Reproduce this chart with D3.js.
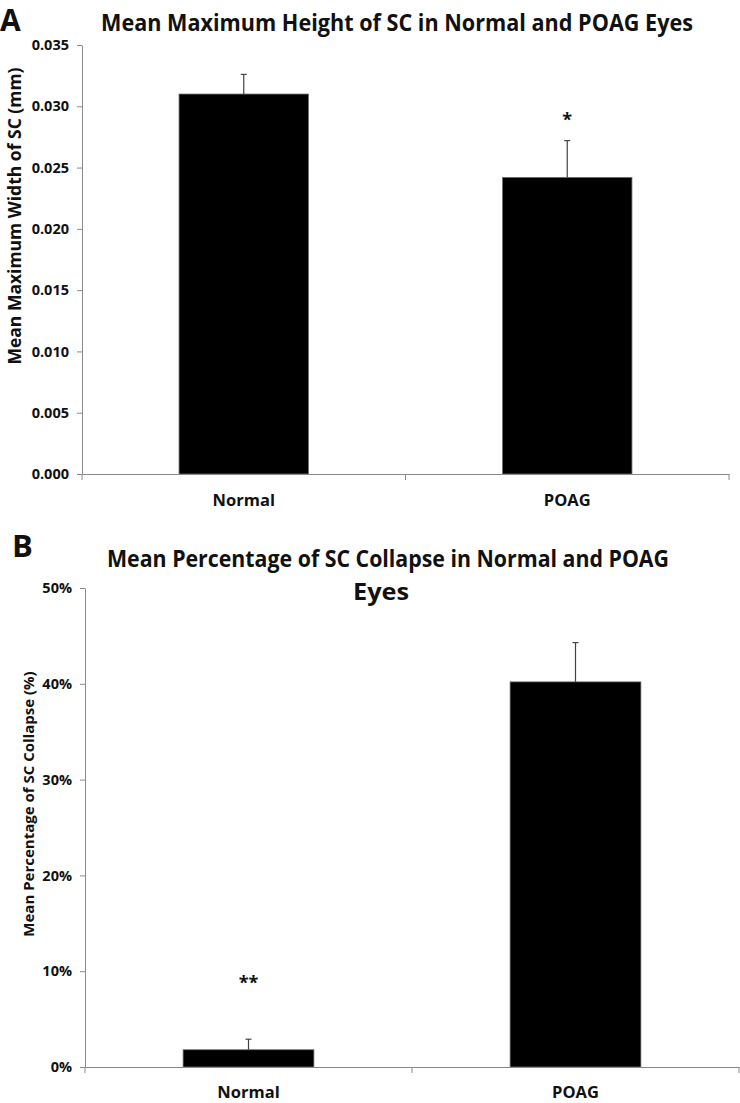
<!DOCTYPE html>
<html>
<head>
<meta charset="utf-8">
<script src="https://cdn.jsdelivr.net/npm/d3@7"></script>
<style>
  html, body { margin: 0; padding: 0; background: #fff; }
  svg { display: block; }
  text { font-family: "Open Sans", "DejaVu Sans", sans-serif; font-weight: bold; fill: #111; }
</style>
</head>
<body>
<script>
// ---------- data ----------
const categories = ["Normal", "POAG"];

// Panel A: mean maximum width of SC (mm)
const heightMeans = [0.0310, 0.0242];
const heightErrors = [0.0016, 0.0030];
const heightTicks = [0, 0.005, 0.010, 0.015, 0.020, 0.025, 0.030, 0.035];
const heightSig = ["", "*"];
const heightSigLevel = [null, 0.0292];

// Panel B: mean percentage of SC collapse
const collapseMeans = [0.018, 0.402];
const collapseErrors = [0.011, 0.041];
const collapseTicks = [0, 0.1, 0.2, 0.3, 0.4, 0.5];
const collapseSig = ["**", ""];
const collapseSigLevel = [0.0919, null];

const W = 740, H = 1103;
const svg = d3.select("body").append("svg").attr("width", W).attr("height", H);

const axisColor = "#8a8a8a";

function panel(cfg) {
  const g = svg.append("g");
  const y = d3.scaleLinear().domain(cfg.domain).range([cfg.y0, cfg.y1]);
  const x = d3.scaleBand().domain(categories).range([cfg.x0, cfg.x1])
    .paddingInner(0.6).paddingOuter(0.3);

  // y axis
  const ya = g.append("g").attr("transform", `translate(${cfg.x0},0)`)
    .call(d3.axisLeft(y).tickValues(cfg.ticks).tickFormat(cfg.fmt).tickSize(5).tickSizeOuter(0).tickPadding(8));
  ya.select(".domain").attr("stroke", axisColor);
  ya.selectAll(".tick line").attr("stroke", axisColor);
  ya.selectAll(".tick text").style("font-size", "14.5px").attr("fill", "#111");

  // bars
  const data = categories.map((c, i) => ({ c, v: cfg.means[i], e: cfg.errs[i], s: cfg.sig[i], sl: cfg.sigLevel[i] }));
  g.selectAll("rect.bar").data(data).join("rect")
    .attr("class", "bar")
    .attr("x", d => x(d.c))
    .attr("width", x.bandwidth())
    .attr("y", d => y(d.v))
    .attr("height", d => y(0) - y(d.v))
    .attr("fill", "#000")
    .attr("stroke", "#6e6e6e")
    .attr("stroke-width", 0.8);

  // error bars (upper only)
  const eb = g.selectAll("g.err").data(data).join("g").attr("class", "err");
  eb.append("line")
    .attr("x1", d => x(d.c) + x.bandwidth() / 2)
    .attr("x2", d => x(d.c) + x.bandwidth() / 2)
    .attr("y1", d => y(d.v))
    .attr("y2", d => y(d.v + d.e))
    .attr("stroke", "#444").attr("stroke-width", 1.2);
  eb.append("line")
    .attr("x1", d => x(d.c) + x.bandwidth() / 2 - 3)
    .attr("x2", d => x(d.c) + x.bandwidth() / 2 + 3)
    .attr("y1", d => y(d.v + d.e))
    .attr("y2", d => y(d.v + d.e))
    .attr("stroke", "#444").attr("stroke-width", 1.2);

  // significance marks
  g.selectAll("text.sig").data(data.filter(d => d.s)).join("text")
    .attr("class", "sig")
    .attr("x", d => x(d.c) + x.bandwidth() / 2)
    .attr("y", d => y(d.sl) + 10)
    .attr("text-anchor", "middle")
    .style("font-size", "18px")
    .text(d => d.s);

  // x axis
  const xa = g.append("g").attr("transform", `translate(0,${cfg.y0})`)
    .call(d3.axisBottom(x).tickSize(0).tickSizeOuter(0));
  xa.select(".domain").attr("stroke", axisColor);
  xa.selectAll(".tick text").attr("y", cfg.labelOffset).attr("dy", 0)
    .style("font-size", "16.5px").attr("fill", "#111");
  const r = x.range();
  const mid = (r[0] + r[1]) / 2;
  g.selectAll("line.xt").data([r[0], mid, r[1]]).join("line")
    .attr("class", "xt")
    .attr("x1", d => d).attr("x2", d => d)
    .attr("y1", cfg.y0).attr("y2", cfg.y0 + 6)
    .attr("stroke", axisColor);

  // y title
  svg.append("text")
    .attr("transform", `translate(${cfg.ytX},${cfg.ytY}) rotate(-90)`)
    .attr("text-anchor", "middle")
    .style("font-size", cfg.ytSize)
    .text(cfg.yTitle);

  return { x, y };
}

panel({
  domain: [0, 0.035], y0: 474, y1: 45, x0: 82, x1: 729,
  ticks: heightTicks, fmt: d3.format(".3f"),
  means: heightMeans, errs: heightErrors, sig: heightSig, sigLevel: heightSigLevel,
  labelOffset: 32,
  yTitle: "Mean Maximum Width of SC (mm)", ytX: 21, ytY: 216, ytSize: "17.5px"
});

panel({
  domain: [0, 0.5], y0: 1067, y1: 588, x0: 85, x1: 739,
  ticks: collapseTicks, fmt: d3.format(".0%"),
  means: collapseMeans, errs: collapseErrors, sig: collapseSig, sigLevel: collapseSigLevel,
  labelOffset: 31,
  yTitle: "Mean Percentage of SC Collapse (%)", ytX: 34, ytY: 804, ytSize: "15px"
});

// titles
svg.append("text").attr("x", 397).attr("y", 31)
  .attr("text-anchor", "middle").style("font-size", "23px")
  .attr("dominant-baseline", "alphabetic")
  .attr("textLength", 592).attr("lengthAdjust", "spacingAndGlyphs")
  .text("Mean Maximum Height of SC in Normal and POAG Eyes");

svg.append("text").attr("x", 388).attr("y", 567)
  .attr("text-anchor", "middle").style("font-size", "24px")
  .attr("textLength", 562).attr("lengthAdjust", "spacingAndGlyphs")
  .text("Mean Percentage of SC Collapse in Normal and POAG");
svg.append("text").attr("x", 381).attr("y", 600)
  .attr("text-anchor", "middle").style("font-size", "24px")
  .attr("textLength", 56).attr("lengthAdjust", "spacingAndGlyphs")
  .text("Eyes");

// panel letters
svg.append("text").attr("x", 0).attr("y", 31).style("font-size", "30px").text("A");
svg.append("text").attr("x", 12).attr("y", 557).style("font-size", "31px").text("B");
</script>
</body>
</html>
